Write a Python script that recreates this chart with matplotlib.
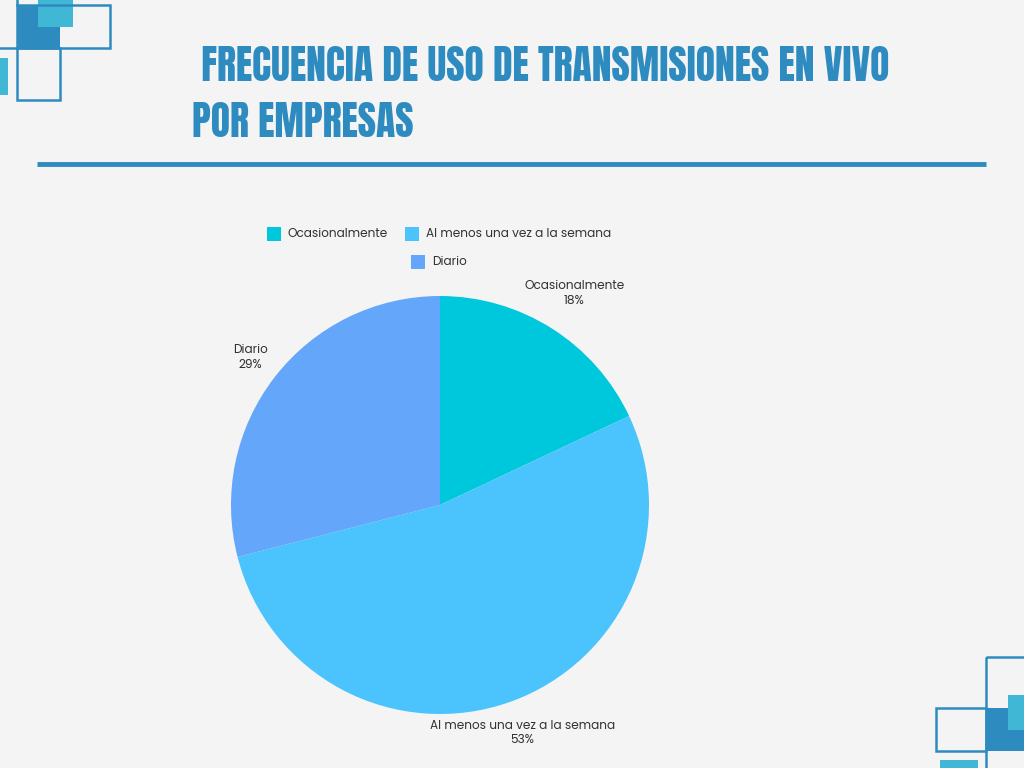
import matplotlib
import numpy as np

matplotlib.use("Agg")
import matplotlib.pyplot as plt
from matplotlib.patches import Rectangle

# ── data ──────────────────────────────────────────────────────────────────────
categories = ["Ocasionalmente", "Al menos una vez a la semana", "Diario"]
shares = [18, 53, 29]
title_lines = [" FRECUENCIA DE USO DE TRANSMISIONES EN VIVO", "POR EMPRESAS"]

# ── colours ───────────────────────────────────────────────────────────────────
BG = "#F4F4F4"
SLICE_COLORS = ["#00C8DC", "#4BC4FD", "#64A6FA"]
DARK = "#2E8BC0"
LIGHT = "#41B7D6"
TEXT = "#333333"

TITLE_FONT = ["Anton", "Bebas Neue", "Oswald", "DejaVu Sans"]
plt.rcParams["font.family"] = ["Poppins", "Open Sans", "DejaVu Sans"]

W, H = 1024, 768
fig = plt.figure(figsize=(W / 100, H / 100), dpi=100, facecolor=BG)

# pixel-space overlay for decoration, title and legend
deco = fig.add_axes([0, 0, 1, 1])
deco.set_xlim(0, W)
deco.set_ylim(H, 0)
deco.axis("off")

# top-left ornament
deco.add_patch(Rectangle((17, 5), 43, 43, color=DARK, lw=0))
deco.add_patch(Rectangle((38, 0), 35, 27, color=LIGHT, lw=0))
deco.add_patch(Rectangle((0, 58), 8, 37, color=LIGHT, lw=0))
deco.add_patch(Rectangle((17, 5), 93, 43, fill=False, ec=DARK, lw=1.8))
deco.add_patch(Rectangle((17, 48), 43, 52, fill=False, ec=DARK, lw=1.8))
deco.plot([17, 17], [-2, 5], color=DARK, lw=1.8)
deco.plot([-2, 17], [48, 48], color=DARK, lw=1.8)

# bottom-right ornament
deco.add_patch(Rectangle((986, 708), 40, 43, color=DARK, lw=0))
deco.add_patch(Rectangle((1008, 695), 20, 35, color=LIGHT, lw=0))
deco.add_patch(Rectangle((940, 760), 38, 10, color=LIGHT, lw=0))
deco.add_patch(Rectangle((986, 657), 45, 120, fill=False, ec=DARK, lw=1.8))
deco.add_patch(Rectangle((936, 708), 50, 43, fill=False, ec=DARK, lw=1.8))

# title + rule
deco.text(192, 81, title_lines[0], family=TITLE_FONT, fontsize=28.5,
          color=DARK, va="baseline", ha="left")
deco.text(192, 137, title_lines[1], family=TITLE_FONT, fontsize=28.5,
          color=DARK, va="baseline", ha="left")
deco.plot([37, 986], [164, 164], color=DARK, lw=3.5, solid_capstyle="butt")

# legend (two rows, second row centred)
legend_pos = [(267, 234), (405, 234), (411, 262)]
for (x, y), lab, col in zip(legend_pos, categories, SLICE_COLORS):
    deco.add_patch(Rectangle((x, y - 7), 14, 14, color=col, lw=0))
    deco.text(x + 21, y, lab, fontsize=8.7, color=TEXT, va="center", ha="left")

# ── pie ───────────────────────────────────────────────────────────────────────
cx, cy, R = 440, 505, 209
pax = fig.add_axes([(cx - R) / W, (H - cy - R) / H, 2 * R / W, 2 * R / H])
labels = [f"{c}\n{s}%" for c, s in zip(categories, shares)]
wedges, texts = pax.pie(
    shares,
    colors=SLICE_COLORS,
    startangle=90,
    counterclock=False,
    labels=labels,
    labeldistance=1.2,
    textprops=dict(fontsize=8.7, color=TEXT, linespacing=1.3),
    wedgeprops=dict(linewidth=0),
)
# outside labels sit at slightly different distances in the reference
label_dist = [1.2, 1.16, 1.15]
for w, t, d in zip(wedges, texts, label_dist):
    mid = np.deg2rad((w.theta1 + w.theta2) / 2)
    t.set_position((d * np.cos(mid), d * np.sin(mid)))
    t.set_ha("center")
    t.set_va("center")
pax.set_xlim(-1, 1)
pax.set_ylim(-1, 1)
pax.set_aspect("auto")
pax.axis("off")

fig.savefig("out.png", dpi=100, facecolor=BG)
